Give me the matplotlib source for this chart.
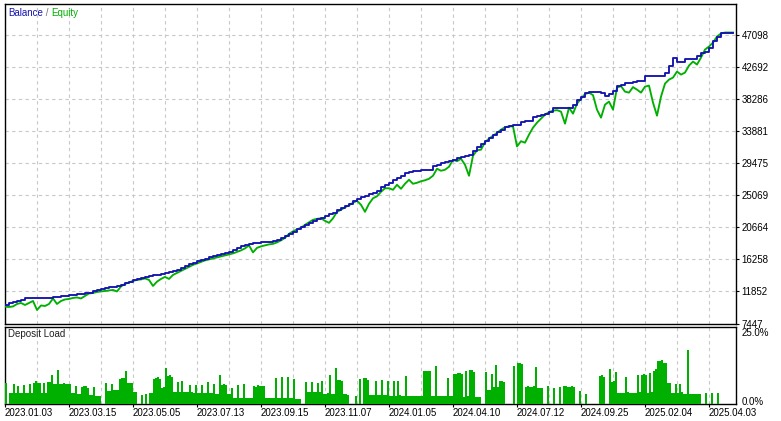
import matplotlib.pyplot as plt
import numpy as np

plt.rcParams['font.family'] = ['Liberation Sans', 'DejaVu Sans']

# balance / equity sampled every 2 trade steps
balance = [
    10000, 10270, 10408, 10545, 10683, 10890, 10958, 10958, 10958, 10958,
    10958, 10958, 11027, 11096, 11165, 11234, 11303, 11371, 11440, 11509,
    11578, 11647, 11922, 12060, 12198, 12335, 12404, 12473, 12611, 12680,
    13024, 13162, 13368, 13506, 13712, 13850, 13988, 14057, 14125, 14263,
    14401, 14539, 14676, 14745, 15089, 15365, 15571, 15778, 15984, 16191,
    16329, 16535, 16673, 16811, 17017, 17155, 17293, 17568, 17843, 18050,
    18256, 18394, 18463, 18532, 18601, 18601, 18670, 18738, 18945, 19220,
    19427, 19771, 20047, 20391, 20666, 21010, 21286, 21561, 21768, 21974,
    22250, 22456, 22663, 23007, 23283, 23627, 23902, 24246, 24591, 24866,
    25004, 25210, 25417, 25623, 26243, 26518, 26794, 27138, 27414, 27758,
    28102, 28240, 28377, 28446, 28515, 28584, 28584, 29066, 29272, 29479,
    29686, 29823, 29961, 30168, 30305, 30443, 30649, 31200, 31682, 32095,
    32577, 32990, 33403, 33748, 34092, 34505, 34643, 34712, 34780, 35125,
    35262, 35331, 35882, 36020, 36157, 36295, 36570, 37053, 37121, 37121,
    37121, 37121, 37534, 38223, 38636, 39187, 39325, 39325, 39325, 39187,
    38773, 39049, 39462, 40082, 40288, 40495, 40564, 40701, 40770, 40839,
    41528, 41528, 41528, 41528, 41528, 41941, 42905, 44006, 43456, 43456,
    43869, 43869, 43869, 44282, 44695, 44833, 45383, 46347, 46898, 47449,
    47449, 47449, 47449,
]
equity = [
    9760, 9719, 9788, 10132, 10270, 9994, 10270, 10545, 9306, 9926,
    9857, 10132, 10890, 10132, 10545, 10752, 10821, 10958, 11027, 10890,
    11234, 11578, 11647, 11785, 11853, 11922, 11991, 12060, 11853, 12542,
    12886, 13093, 13299, 13437, 13506, 13644, 13437, 12611, 13203, 13575,
    13850, 13575, 14125, 14401, 14676, 14952, 15227, 15502, 15709, 15916,
    16122, 16260, 16398, 16535, 16673, 16811, 16948, 17086, 17293, 17499,
    17775, 18188, 17224, 17843, 18050, 18188, 18325, 18394, 18601, 18876,
    19220, 19771, 20115, 20391, 20597, 21010, 21355, 21699, 21837, 21906,
    21561, 21286, 21906, 22801, 23076, 23420, 23696, 24040, 24315, 23764,
    22801, 23902, 24660, 24935, 25555, 26037, 26037, 25830, 26518, 25968,
    26656, 27207, 26656, 26794, 27000, 27138, 27345, 27758, 28722, 28446,
    28584, 28997, 29961, 29754, 30099, 29272, 27758, 30512, 31269, 31338,
    32371, 32853, 33266, 33638, 34092, 34436, 34546, 34546, 31792, 32508,
    32302, 33403, 34367, 35056, 35607, 36157, 36502, 36708, 36777, 36570,
    34918, 37121, 36295, 37672, 38361, 38980, 39187, 38843, 36846, 35744,
    37534, 37948, 36846, 39875, 40082, 39325, 39187, 39944, 39600, 39187,
    40012, 40150, 37810, 36020, 38636, 40426, 40977, 41252, 42079, 41665,
    41941, 42905, 43456, 43043, 44006, 45108, 45521, 46072, 46898, 47311,
    47449, 47449, 47449,
]

# deposit load in percent, one value per trade step
load = [
    6.8, 0, 3.5, 3.5, 6.4, 3.3, 5.7, 3.5, 3.3, 6.0,
    3.5, 3.3, 6.4, 3.5, 6.8, 7.2, 6.8, 6.8, 3.5, 6.8,
    3.5, 7.0, 7.0, 9.4, 6.3, 6.3, 10.9, 6.3, 6.3, 6.8,
    6.3, 6.3, 6.3, 3.3, 3.3, 5.7, 3.0, 3.0, 5.4, 5.7,
    5.7, 5.2, 2.8, 2.8, 5.4, 2.4, 2.4, 2.4, 0, 0,
    6.8, 4.1, 4.1, 6.3, 4.4, 4.4, 4.4, 8.1, 8.3, 8.3,
    10.6, 6.8, 6.8, 6.8, 3.7, 3.7, 0, 0, 2.8, 0,
    3.1, 0, 3.3, 3.5, 8.1, 8.3, 8.7, 8.1, 5.2, 5.4,
    11.6, 9.0, 9.3, 8.7, 3.7, 3.7, 7.1, 3.7, 7.3, 3.7,
    3.7, 3.7, 6.0, 3.7, 3.3, 6.0, 3.3, 3.3, 6.0, 3.3,
    3.3, 7.0, 3.3, 3.3, 6.3, 3.0, 3.0, 9.3, 6.0, 6.3,
    5.9, 3.0, 3.0, 5.0, 1.7, 1.7, 6.0, 1.7, 1.7, 6.3,
    1.7, 1.7, 1.7, 1.7, 5.7, 5.4, 6.0, 5.7, 5.7, 5.7,
    1.7, 1.7, 1.7, 1.7, 1.7, 8.3, 1.7, 1.7, 8.7, 1.7,
    1.7, 8.7, 1.7, 1.7, 8.1, 1.4, 1.4, 1.4, 0, 0,
    7.1, 3.7, 3.7, 7.1, 3.7, 3.7, 6.8, 3.7, 7.4, 3.0,
    3.0, 3.5, 9.4, 3.0, 3.0, 11.5, 7.6, 7.6, 7.4, 3.0,
    3.0, 2.7, 0, 0, 0, 2.4, 0, 8.0, 0, 8.3,
    8.3, 7.6, 2.7, 2.7, 2.7, 7.3, 2.7, 2.7, 7.8, 2.7,
    2.7, 7.3, 2.4, 2.4, 7.3, 2.4, 7.3, 2.7, 2.4, 2.4,
    8.9, 2.4, 2.4, 2.4, 2.4, 2.4, 2.4, 2.4, 2.4, 10.6,
    10.6, 10.6, 10.6, 2.4, 2.4, 12.2, 2.4, 2.4, 2.4, 2.4,
    2.4, 8.3, 2.4, 2.4, 9.6, 9.6, 9.9, 9.9, 9.6, 2.2,
    10.6, 2.4, 10.9, 10.9, 10.2, 2.1, 2.1, 2.1, 0, 0,
    10.2, 4.4, 4.4, 9.6, 5.3, 12.5, 5.3, 7.3, 7.3, 7.0,
    0, 0, 0, 0, 12.2, 0, 13.2, 13.2, 12.9, 0,
    5.3, 5.7, 5.3, 5.3, 5.7, 11.9, 5.0, 5.0, 5.0, 0,
    0, 5.7, 0, 0, 5.0, 0, 0, 5.3, 0, 5.7,
    5.7, 5.3, 5.3, 5.7, 5.3, 0, 0, 4.0, 0, 0,
    3.0, 0, 0, 0, 0, 0, 0, 8.9, 9.3, 8.6,
    0, 0, 11.2, 7.0, 7.2, 10.2, 3.4, 3.4, 3.4, 3.4,
    8.6, 3.7, 3.4, 3.4, 3.4, 3.4, 9.3, 3.7, 9.3, 9.6,
    9.3, 3.4, 9.9, 3.7, 10.6, 11.2, 13.8, 13.8, 14.2, 13.2,
    13.2, 6.6, 6.6, 3.4, 3.4, 6.4, 3.4, 6.4, 3.7, 3.0,
    3.0, 17.4, 3.0, 3.0, 3.0, 3.0, 3.0, 3.0, 0, 0,
    3.4, 0, 0, 3.4, 0, 0, 3.4, 0, 0, 0,
    0, 0, 0, 0, 0, 0,
]

date_labels = ['2023.01.03', '2023.03.15', '2023.05.05', '2023.07.13',
               '2023.09.15', '2023.11.07', '2024.01.05', '2024.04.10',
               '2024.07.12', '2024.09.25', '2025.02.04', '2025.04.03']
value_ticks = [7447, 11852, 16258, 20664, 25069, 29475, 33881, 38286, 42692, 47098]

blue = '#1414b0'
green = '#00b000'
grid_kw = dict(color='#c8c8c8', linestyle=(0, (3, 3)), linewidth=0.8)
n_steps = 365.5

fig = plt.figure(figsize=(7.81, 4.21), dpi=100)
ax = fig.add_axes([5/781, 97.5/421, 731/781, 319.5/421])
ax2 = fig.add_axes([5/781, 17.5/421, 731/781, 76.5/421])

#balance / equity panel
xc = np.arange(len(balance)) * 2
ax.plot(xc, equity, color=green, lw=1.35, zorder=3)
ax.plot(xc, balance, color=blue, lw=1.35, drawstyle='steps-post', zorder=4)
ax.set_xlim(0, n_steps)
ax.set_ylim(7447, 51370)
ax.set_xticks(np.arange(0, n_steps, 16))
ax.set_xticklabels([])
ax.tick_params(axis='x', length=0)
ax.yaxis.tick_right()
ax.set_yticks(value_ticks)
ax.set_yticklabels([str(v) for v in value_ticks])
ax.tick_params(axis='y', length=2, pad=2, labelsize=7, colors='black')
ax.grid(True, **grid_kw)
ax.set_axisbelow(True)

t1 = ax.text(0.0045, 0.971, 'Balance', transform=ax.transAxes, color=blue,
             fontsize=7, va='center', ha='left')
t2 = ax.annotate(' / ', xy=(1, 0), xycoords=t1, va='bottom', ha='left',
                 fontsize=7, color='#707070')
ax.annotate('Equity', xy=(1, 0), xycoords=t2, va='bottom', ha='left',
            fontsize=7, color=green)

#deposit load panel
ax2.bar(np.arange(len(load)), load, width=1, align='edge', color=green,
        linewidth=0, zorder=3)
ax2.set_xlim(0, n_steps)
ax2.set_ylim(0, 25)
ax2.set_xticks(np.arange(0, n_steps, 32))
ax2.set_xticklabels(date_labels, ha='left')
ax2.set_xticks(np.arange(0, n_steps, 16), minor=True)
ax2.tick_params(axis='x', which='major', length=2, pad=1, labelsize=7)
ax2.tick_params(axis='x', which='minor', length=0)
ax2.yaxis.tick_right()
ax2.set_yticks([0.8, 23.3])
ax2.set_yticklabels(['0.0%', '25.0%'])
ax2.tick_params(axis='y', length=0, pad=4, labelsize=7)
ax2.grid(True, axis='x', which='both', **grid_kw)
ax2.set_axisbelow(True)
ax2.text(0.0045, 0.905, 'Deposit Load', transform=ax2.transAxes,
         fontsize=7, va='center', ha='left', color='#202020')

for a in (ax, ax2):
    for s in a.spines.values():
        s.set_linewidth(1.0)
        s.set_color('black')

fig.savefig('out.png', dpi=100)
